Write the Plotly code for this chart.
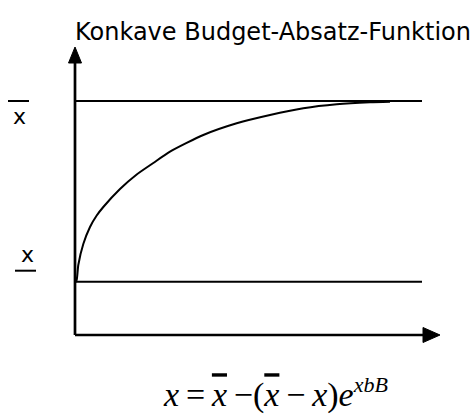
import plotly.graph_objects as go

# Concave budget-sales response: sales approach the saturation level from the minimum level
budget = [0.5, 1.7, 3.3, 8.3, 15, 21.7, 28.3, 45, 61.7, 78.3, 95, 128.3,
          161.7, 195, 228.3, 261.7, 295, 315]
absatz = [53, 55, 70, 91, 108, 119.5, 128, 146, 160.5, 172, 183.3, 200,
          211.7, 220, 226.7, 230.7, 232.7, 233.3]

x_oben = 234     # saturation level (x bar)
x_unten = 53.3   # minimum sales level (x underline)
line_end = 347   # right end of the two level lines
budget_axis_end = 365
absatz_axis_end = 288

W, H = 475, 414
X0, Y0 = 75, 335  # pixel position of the origin

fig = go.Figure()

fig.add_trace(go.Scatter(
    x=budget, y=absatz, mode="lines",
    line=dict(color="black", width=2, shape="spline", smoothing=0.6),
    hoverinfo="skip", showlegend=False,
))

shapes = []
# level lines
for lvl in (x_oben, x_unten):
    shapes.append(dict(type="line", xref="x", yref="y", x0=0, x1=line_end, y0=lvl, y1=lvl,
                       line=dict(color="black", width=2)))
# axes
shapes.append(dict(type="line", xref="x", yref="y", x0=0, x1=0, y0=0, y1=absatz_axis_end - 15,
                   line=dict(color="black", width=2.7)))
shapes.append(dict(type="line", xref="x", yref="y", x0=0, x1=budget_axis_end - 16, y0=0, y1=0,
                   line=dict(color="black", width=2.7)))
# arrow heads
t = absatz_axis_end
shapes.append(dict(type="path", xref="x", yref="y",
                   path=f"M -6.5 {t-16} L 6.5 {t-16} L 0 {t} Z",
                   fillcolor="black", line=dict(color="black", width=1)))
r = budget_axis_end
shapes.append(dict(type="path", xref="x", yref="y",
                   path=f"M {r-17} -7.5 L {r-17} 7.5 L {r} 0 Z",
                   fillcolor="black", line=dict(color="black", width=1)))
# bars of the level labels
shapes.append(dict(type="line", xref="x", yref="y", x0=-67, x1=-46, y0=x_oben, y1=x_oben,
                   line=dict(color="black", width=2)))
shapes.append(dict(type="line", xref="x", yref="y", x0=-60, x1=-39, y0=x_unten + 11, y1=x_unten + 11,
                   line=dict(color="black", width=2)))

sans = "DejaVu Sans"
serif = "Liberation Serif, Times New Roman, serif"
ov = "<span style='text-decoration:overline'><i>x</i></span>"
th = "\u2009"

formula = (f"<i>x</i>{th}={th}{ov}{th}−({ov}{th}−{th}<i>x</i>)"
           f"<i>e</i><sup><span style='font-size:22px'><i>xbB</i></span></sup>")

annotations = [
    dict(x=-2, y=303, xref="x", yref="y", xanchor="left", yanchor="middle",
         text="Konkave Budget-Absatz-Funktion", showarrow=False,
         font=dict(family=sans, size=24, color="black")),
    dict(x=-55.5, y=219, xref="x", yref="y", xanchor="center", yanchor="middle",
         text="x", showarrow=False, font=dict(family=sans, size=22, color="black")),
    dict(x=-48, y=81, xref="x", yref="y", xanchor="center", yanchor="middle",
         text="x", showarrow=False, font=dict(family=sans, size=22, color="black")),
    dict(x=161 - X0, y=Y0 - 393, xref="x", yref="y", xanchor="left", yanchor="middle",
         text=formula, showarrow=False,
         font=dict(family=serif, size=34, color="black")),
]

fig.update_layout(
    width=W, height=H,
    margin=dict(l=0, r=0, t=0, b=0),
    paper_bgcolor="white", plot_bgcolor="white",
    xaxis=dict(range=[-X0, W - X0], visible=False, fixedrange=True),
    yaxis=dict(range=[Y0 - H, Y0], visible=False, fixedrange=True),
    shapes=shapes, annotations=annotations,
)

fig.write_html("out.html")
